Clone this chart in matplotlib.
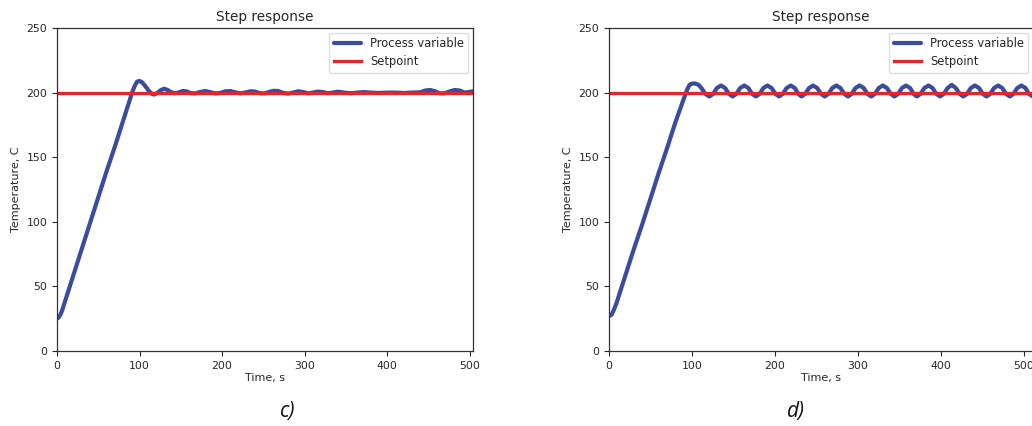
import matplotlib
matplotlib.use("Agg")
import matplotlib.pyplot as plt

# ---------------- data ----------------
# panel c)
t_c = [0, 2, 4, 6, 8, 10, 15, 20, 30, 40, 50, 60, 70, 80, 87, 91, 94, 97, 100,
       103, 107, 111, 115, 118, 122, 126, 130, 134, 138, 142, 147, 152, 157, 162,
       168, 174, 180, 186, 192, 198, 204, 210, 216, 222, 228, 234, 240, 246, 252,
       258, 263, 268, 274, 280, 286, 292, 298, 304, 310, 316, 322, 328, 334, 340,
       348, 356, 364, 372, 380, 390, 400, 410, 420, 430, 440, 446, 452, 458, 464,
       470, 476, 482, 488, 494, 500, 505]
pv_c = [25, 26, 28, 31, 35, 39, 49, 59, 79, 99, 119, 139, 158, 178, 192, 200, 205,
        208.5, 209, 208, 205, 201.5, 199, 198.5, 200, 202, 203, 202, 200.5, 199.5,
        200, 201.2, 201, 199.6, 199.4, 200.6, 201.2, 200.3, 199.3, 199.8, 201, 201.2,
        200.2, 199.4, 200, 201, 200.8, 199.5, 199.4, 200.7, 201.4, 201.2, 199.8,
        199.2, 200, 201, 200.5, 199.4, 200, 200.8, 200.4, 199.5, 200, 200.7, 200,
        199.5, 200, 200.4, 200, 199.7, 200, 200, 199.7, 200, 200.2, 201.6, 202, 201,
        199.4, 199.5, 201, 202, 201.6, 200, 200.6, 201]

# panel d)
t_d = [0, 3, 6, 9, 12, 16, 20, 30, 40, 50, 60, 70, 80, 90, 94, 97, 100, 104, 108,
       112, 116, 121, 125.5, 130, 135, 140, 144.5, 149, 153.5, 158, 163, 168,
       172.5, 177, 181.5, 186, 191, 196, 200.5, 205, 209.5, 214, 219, 224, 228,
       232, 236.5, 241, 246, 251, 255.5, 260, 264.5, 269, 274, 279, 283.5, 288,
       292.5, 297, 302, 307, 311.5, 316, 320.5, 325, 330, 335, 339.5, 344, 348.5,
       353, 358, 363, 367, 371, 375.5, 380, 385, 390, 394.5, 399, 403.5, 408, 413,
       418, 422.5, 427, 431.5, 436, 441, 446, 450.5, 455, 459.5, 464, 469, 474,
       478.5, 483, 487.5, 492, 497, 502, 506, 511]
pv_d = [27, 28, 32, 37, 43, 51, 59, 79, 98, 118, 138, 157, 177, 195, 202, 206, 207,
        207, 206, 203, 199, 197,
        199, 203.5, 205.5, 203.5, 199, 197,
        199, 203.5, 205.5, 203.5, 199, 197,
        199, 203.5, 205.5, 203.5, 199, 197,
        199, 203.5, 205.5, 203.5, 199, 197,
        199, 203.5, 205.5, 203.5, 199, 197,
        199, 203.5, 205.5, 203.5, 199, 197,
        199, 203.5, 205.5, 203.5, 199, 197,
        199, 203.5, 205.5, 203.5, 199, 197,
        199, 203.5, 205.5, 203.5, 199, 197,
        199, 203.5, 205.5, 203.5, 199, 197,
        199, 203.5, 206, 203.5, 199, 197,
        199, 203.5, 205.5, 203.5, 199, 197,
        199, 203.5, 205.5, 203.5, 199, 197,
        199, 203.5, 205.5, 203.5, 199, 197]

setpoint_t = [0, 520]
setpoint_v = [200, 200]

x_ticks = [0, 100, 200, 300, 400, 500]
y_ticks = [0, 50, 100, 150, 200, 250]
panel_labels = ["c)", "d)"]

# ---------------- styling ----------------
PV_COLOR = "#3b4c9f"
SP_COLOR = "#e3262b"
TXT = "#262626"

plt.rcParams['font.family'] = ['DejaVu Sans']

fig = plt.figure(figsize=(10.32, 4.26), dpi=100)
W, H = 1032, 426
ax1 = fig.add_axes([57 / W, 75 / H, 416 / W, 323 / H])
ax2 = fig.add_axes([609 / W, 75 / H, 424 / W, 323 / H])

for ax, t, pv, xmax in [(ax1, t_c, pv_c, 504), (ax2, t_d, pv_d, 511)]:
    ax.plot(t, pv, color=PV_COLOR, lw=3.0, label="Process variable",
            solid_capstyle="round", solid_joinstyle="round")
    ax.plot(setpoint_t, setpoint_v, color=SP_COLOR, lw=2.4, label="Setpoint")
    ax.set_xlim(0, xmax)
    ax.set_ylim(0, 250)
    ax.set_xticks(x_ticks)
    ax.set_yticks(y_ticks)
    ax.tick_params(labelsize=7.8, colors=TXT, length=3.5, width=0.8)
    for s in ax.spines.values():
        s.set_color("#333333")
        s.set_linewidth(0.9)
    ax.set_title("Step response", fontsize=9.8, color=TXT, pad=5)
    ax.set_xlabel("Time, s", fontsize=8.0, color=TXT, labelpad=2)
    ax.set_ylabel("Temperature, C", fontsize=8.0, color=TXT, labelpad=4)
    leg = ax.legend(loc="upper right", fontsize=8.3, handlelength=2.3,
                    borderaxespad=0.4, framealpha=1.0, labelspacing=0.45)
    leg.get_frame().set_edgecolor("#dddddd")
    for txt in leg.get_texts():
        txt.set_color(TXT)

fig.text(288 / W, 1 - 411 / H, panel_labels[0], fontsize=15, style="italic",
         family=["Open Sans", "DejaVu Sans"], ha="center", va="center", color="#111111")
fig.text(796 / W, 1 - 411 / H, panel_labels[1], fontsize=15, style="italic",
         family=["Open Sans", "DejaVu Sans"], ha="center", va="center", color="#111111")

fig.savefig("out.png", dpi=100)
